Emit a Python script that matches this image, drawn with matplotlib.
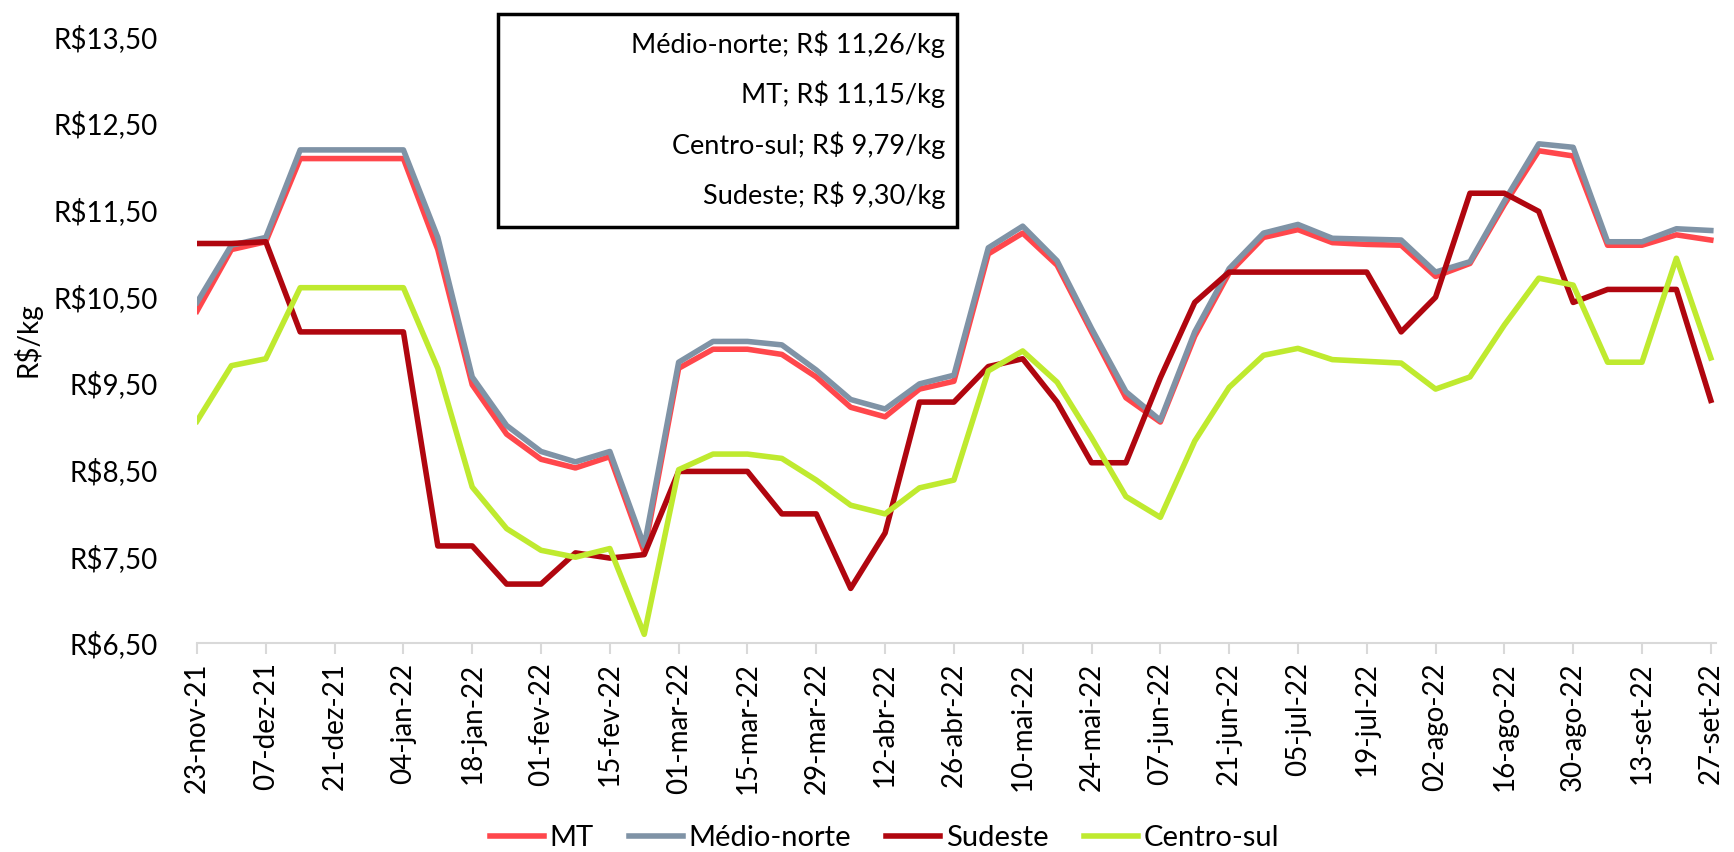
import matplotlib.pyplot as plt
import matplotlib.ticker as mticker
import numpy as np
from matplotlib.patches import Rectangle

plt.rcParams.update({"font.family": ["Lato", "DejaVu Sans"], "font.size": 20})

# weekly prices, 23-nov-21 .. 27-set-22 (45 weeks)
mt = [10.33, 11.04, 11.13, 12.09, 12.09, 12.09, 12.09, 11.04, 9.48, 8.91,
      8.62, 8.52, 8.65, 7.55, 9.67, 9.89, 9.89, 9.83, 9.57, 9.22,
      9.11, 9.43, 9.52, 10.99, 11.23, 10.86, 10.09, 9.33, 9.05, 10.04,
      10.77, 11.18, 11.27, 11.12, 11.10, 11.09, 10.73, 10.88, 11.56, 12.18,
      12.12, 11.09, 11.09, 11.21, 11.15]
medio_norte = [10.43, 11.09, 11.18, 12.19, 12.19, 12.19, 12.19, 11.18, 9.57, 9.01,
               8.71, 8.59, 8.71, 7.62, 9.74, 9.98, 9.98, 9.94, 9.65, 9.31,
               9.20, 9.49, 9.59, 11.06, 11.31, 10.91, 10.13, 9.40, 9.07, 10.09,
               10.82, 11.23, 11.33, 11.17, 11.16, 11.15, 10.78, 10.90, 11.60, 12.26,
               12.22, 11.13, 11.13, 11.28, 11.26]
sudeste = [11.11, 11.11, 11.13, 10.09, 10.09, 10.09, 10.09, 7.62, 7.62, 7.18,
           7.18, 7.54, 7.48, 7.52, 8.48, 8.48, 8.48, 7.99, 7.99, 7.13,
           7.77, 9.28, 9.28, 9.69, 9.78, 9.28, 8.58, 8.58, 9.56, 10.43,
           10.78, 10.78, 10.78, 10.78, 10.78, 10.09, 10.49, 11.69, 11.69, 11.48,
           10.43, 10.58, 10.58, 10.58, 9.30]
centro_sul = [9.06, 9.70, 9.78, 10.60, 10.60, 10.60, 10.60, 9.67, 8.30, 7.82,
              7.57, 7.49, 7.59, 6.60, 8.50, 8.68, 8.68, 8.63, 8.38, 8.09,
              7.99, 8.29, 8.38, 9.64, 9.87, 9.51, 8.87, 8.19, 7.95, 8.83,
              9.45, 9.82, 9.90, 9.77, 9.75, 9.73, 9.43, 9.57, 10.17, 10.71,
              10.63, 9.74, 9.74, 10.94, 9.79]

tick_labels = ["23-nov-21", "07-dez-21", "21-dez-21", "04-jan-22", "18-jan-22",
               "01-fev-22", "15-fev-22", "01-mar-22", "15-mar-22", "29-mar-22",
               "12-abr-22", "26-abr-22", "10-mai-22", "24-mai-22", "07-jun-22",
               "21-jun-22", "05-jul-22", "19-jul-22", "02-ago-22", "16-ago-22",
               "30-ago-22", "13-set-22", "27-set-22"]

box_lines = ["Médio-norte; R$ 11,26/kg", "MT; R$ 11,15/kg",
             "Centro-sul; R$ 9,79/kg", "Sudeste; R$ 9,30/kg"]

fig = plt.figure(figsize=(17.34, 8.52), dpi=100)
ax = fig.add_axes([0.1136, 0.2453, 0.876, 0.712])

x = np.arange(len(mt))
lw = 4.0
ax.plot(x, mt, color="#FF474C", lw=lw, label="MT", solid_joinstyle="round")
ax.plot(x, medio_norte, color="#7F93A6", lw=lw, label="Médio-norte", solid_joinstyle="round")
ax.plot(x, sudeste, color="#B0060F", lw=lw, label="Sudeste", solid_joinstyle="round")
ax.plot(x, centro_sul, color="#BFEA2F", lw=lw, label="Centro-sul", solid_joinstyle="round")

ax.set_xlim(0, len(mt) - 1 + 0.15)
ax.set_ylim(6.5, 13.5)
ax.set_yticks(np.arange(6.5, 13.51, 1.0))
ax.yaxis.set_major_formatter(mticker.FuncFormatter(lambda v, p: f"R${v:.2f}".replace(".", ",")))
ax.set_xticks(np.arange(0, len(mt), 2))
ax.set_xticklabels(tick_labels, rotation=90)

for s in ("top", "right", "left"):
    ax.spines[s].set_visible(False)
ax.spines["bottom"].set_color("#D9D9D9")
ax.spines["bottom"].set_linewidth(1.5)
ax.tick_params(axis="x", length=8, width=1.5, color="#D9D9D9", pad=6)
ax.tick_params(axis="y", length=0, pad=28)
ax.set_ylabel("R$/kg", va="center")
ax.yaxis.set_label_coords(-0.112, 0.5)

# text box with last prices
fig.patches.append(Rectangle((498 / 1734, 1 - 227 / 852), 459 / 1734, 213 / 852,
                             transform=fig.transFigure, fill=False, ec="black", lw=2.5))
for i, t in enumerate(box_lines):
    fig.text(945 / 1734, 1 - (44 + 50.5 * i) / 852, t, ha="right", va="center", fontsize=19.5)

fig.legend(loc="center", ncol=4, frameon=False, bbox_to_anchor=(0.51, 14 / 852),
           handlelength=1.85, columnspacing=1.2, handletextpad=0.2, fontsize=21,
           borderpad=0, borderaxespad=0)

fig.savefig("out.png", dpi=100)
